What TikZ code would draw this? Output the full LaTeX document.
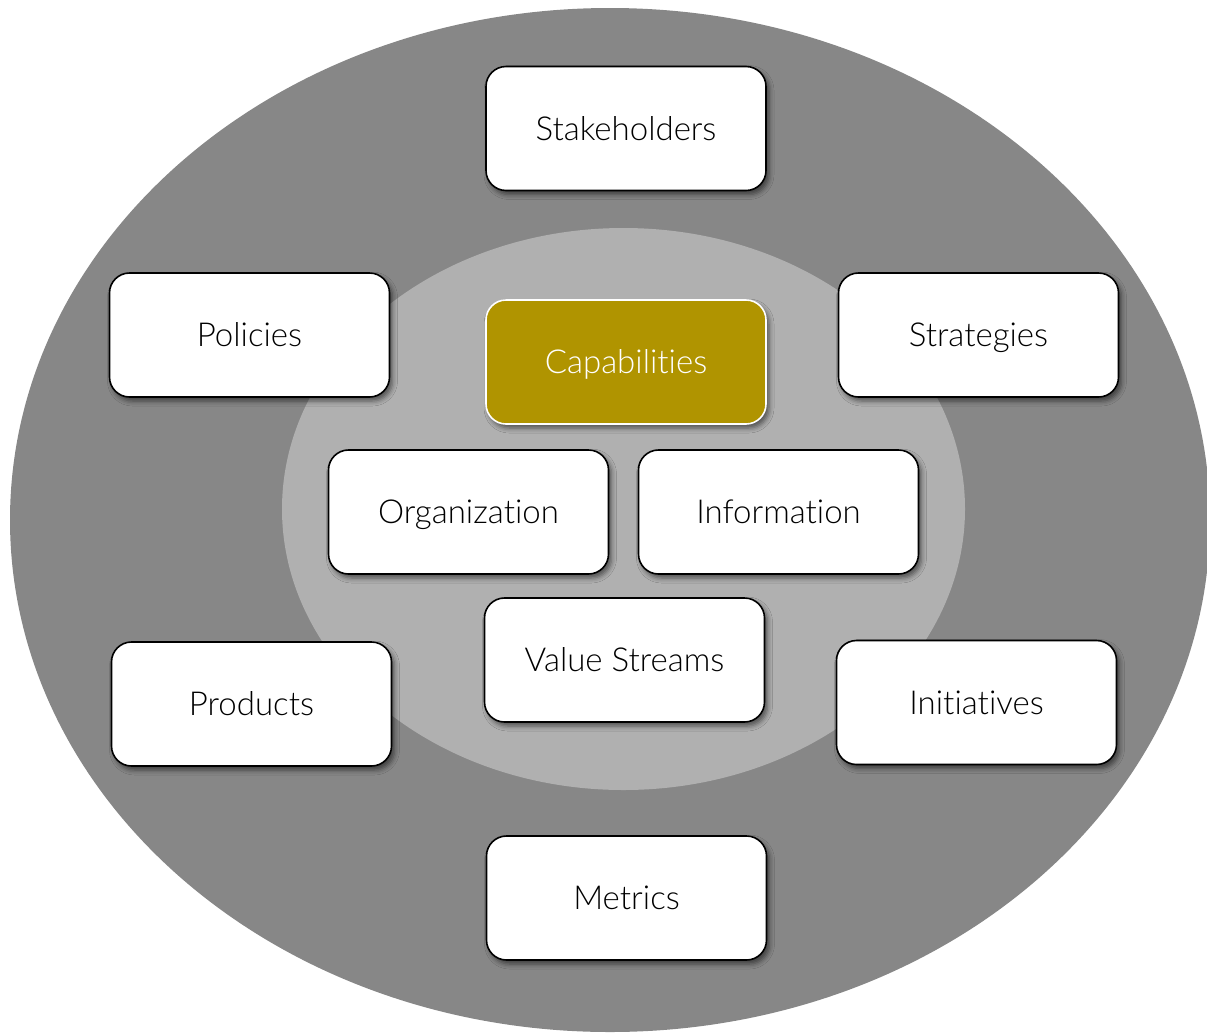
\documentclass[tikz,border=0pt]{standalone}
\usepackage{fontspec}
\setmainfont{Lato}[UprightFont={* Light}, Ligatures={NoCommon,NoRare}]
\usetikzlibrary{shadows.blur}
\definecolor{outergrey}{RGB}{135,135,135}
\definecolor{innergrey}{RGB}{176,176,176}
\definecolor{gold}{RGB}{176,148,0}
\tikzset{
  box/.style={draw=black, line width=1.6pt, fill=white, rounded corners=20pt,
    minimum width=280pt, minimum height=124pt, inner sep=0pt,
    font=\fontsize{33}{38}\selectfont, text=black,
    text height=23.5pt, text depth=0pt,
    blur shadow={shadow xshift=3pt, shadow yshift=-4pt, shadow blur radius=5pt, shadow opacity=55}},
  capbox/.style={box, draw=white, fill=gold, text=white}
}
\begin{document}
\begin{tikzpicture}[x=1pt,y=-1pt]
\useasboundingbox (0,0) rectangle (1207,1034);
\clip (0,0) rectangle (1207,1034);
\fill[outergrey] (610,520) ellipse [x radius=600, y radius=512];
\fill[innergrey] (623.5,509) ellipse [x radius=341.5, y radius=281];
\node[box] (stake) at (626,128.5) {Stakeholders};
\node[box] (pol) at (249.5,335) {Policies};
\node[box] (strat) at (978.5,335) {Strategies};
\node[capbox] (cap) at (626,362) {Capabilities};
\node[box] (org) at (468.5,512) {Organization};
\node[box] (info) at (778.5,512) {Information};
\node[box] (vs) at (624.5,660) {Value Streams};
\node[box] (prod) at (251.5,704) {Products};
\node[box] (init) at (976.5,702.5) {Initiatives};
\node[box] (met) at (626.5,898) {Metrics};
\end{tikzpicture}
\end{document}
